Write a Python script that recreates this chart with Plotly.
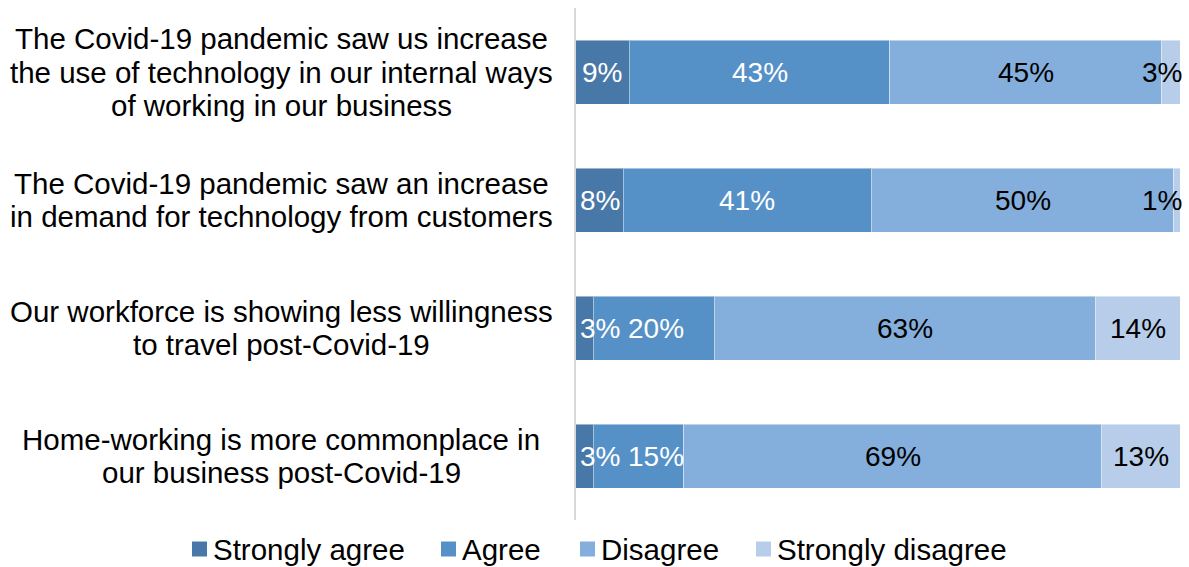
import plotly.graph_objects as go

# Survey statements (top to bottom), split into display lines
statements = [
    ["The Covid-19 pandemic saw us increase",
     "the use of technology in our internal ways",
     "of working in our business"],
    ["The Covid-19 pandemic saw an increase",
     "in demand for technology from customers"],
    ["Our workforce is showing less willingness",
     "to travel post-Covid-19"],
    ["Home-working is more commonplace in",
     "our business post-Covid-19"],
]
categories = [" ".join(s) for s in statements]

responses = ["Strongly agree", "Agree", "Disagree", "Strongly disagree"]
strongly_agree = [9, 8, 3, 3]
agree = [43, 41, 20, 15]
disagree = [45, 50, 63, 69]
strongly_disagree = [3, 1, 14, 13]
series = [strongly_agree, agree, disagree, strongly_disagree]

colors = ["#4878A8", "#5591C7", "#84AEDB", "#B7CDE9"]
label_colors = ["white", "white", "black", "black"]

FONT = "Liberation Sans, Arial, sans-serif"
FS_VAL = 28
FS_TXT = 29.5
W, H = 1189, 567
ML, MR, MT, MB = 575, 9, 8, 47
PLOT_W = W - ML - MR
PLOT_H = H - MT - MB

def px_to_paper(x=None, y=None):
    px = None if x is None else (x - ML) / PLOT_W
    py = None if y is None else (H - MB - y) / PLOT_H
    return px, py

fig = go.Figure()
for name, vals, col in zip(responses, series, colors):
    fig.add_trace(go.Bar(
        y=categories, x=vals, name=name, orientation="h",
        marker=dict(color=col, line=dict(color="rgba(255,255,255,0.45)", width=1)),
        width=0.5, hoverinfo="skip", showlegend=False,
    ))

annotations = []
shapes = [dict(type="line", xref="paper", yref="paper", x0=0, x1=0, y0=0, y1=1,
               line=dict(color="#D9D9D9", width=2))]

# Percentage labels centred in each segment, nudged to stay inside the bar
px_per_unit = PLOT_W / 100.0
def text_width(t):
    return sum(0.889 if c == "%" else 0.556 for c in t) * FS_VAL

for ri, cat in enumerate(categories):
    start = 0.0
    prev_right_px = None
    for si, vals in enumerate(series):
        v = vals[ri]
        txt = f"{v}%"
        w = text_width(txt)
        mid_px = (start + v / 2) * px_per_unit
        left_px = mid_px - w / 2
        if left_px < 5:
            left_px = 5
        if left_px + w > PLOT_W + 2:
            left_px = PLOT_W + 2 - w
        if prev_right_px is not None and left_px < prev_right_px + 8:
            left_px = prev_right_px + 8
        shift = (left_px + w / 2) - mid_px
        annotations.append(dict(
            x=start + v / 2, y=cat, xref="x", yref="y",
            text=txt, showarrow=False, xanchor="center", yanchor="middle",
            xshift=shift, font=dict(family=FONT, size=FS_VAL, color=label_colors[si]),
        ))
        prev_right_px = left_px + w
        start += v

# Category labels, each line centred within its block
LINE_H = 33.5
for cat, lines in zip(categories, statements):
    n = len(lines)
    for li, line in enumerate(lines):
        off = (li - (n - 1) / 2) * LINE_H
        annotations.append(dict(
            x=0, y=cat, xref="paper", yref="y", text=line, showarrow=False,
            xanchor="center", yanchor="middle", xshift=-294, yshift=-off,
            font=dict(family=FONT, size=FS_TXT, color="black"),
        ))

# Legend row below the plot: swatch + label per response
legend_x = [192, 441, 580, 756]
LEG_Y = 549
SW = 15
for name, col, lx in zip(responses, colors, legend_x):
    x0, y0 = px_to_paper(lx, LEG_Y + SW / 2)
    x1, y1 = px_to_paper(lx + SW, LEG_Y - SW / 2)
    shapes.append(dict(type="rect", xref="paper", yref="paper",
                       x0=x0, x1=x1, y0=y0, y1=y1,
                       fillcolor=col, line=dict(width=0)))
    tx, ty = px_to_paper(lx + SW + 4, LEG_Y)
    annotations.append(dict(
        x=tx, y=ty, xref="paper", yref="paper", text=name, showarrow=False,
        xanchor="left", yanchor="middle",
        font=dict(family=FONT, size=FS_TXT, color="black"),
    ))

fig.update_layout(
    barmode="stack",
    width=W, height=H,
    margin=dict(l=ML, r=MR, t=MT, b=MB, autoexpand=False),
    paper_bgcolor="white", plot_bgcolor="white",
    xaxis=dict(range=[0, 100], visible=False, fixedrange=True),
    yaxis=dict(autorange="reversed", showticklabels=False, showgrid=False,
               zeroline=False, showline=False, ticks=""),
    bargap=0.5,
    annotations=annotations,
    shapes=shapes,
    showlegend=False,
)

fig.write_html("out.html", config={"displayModeBar": False})
